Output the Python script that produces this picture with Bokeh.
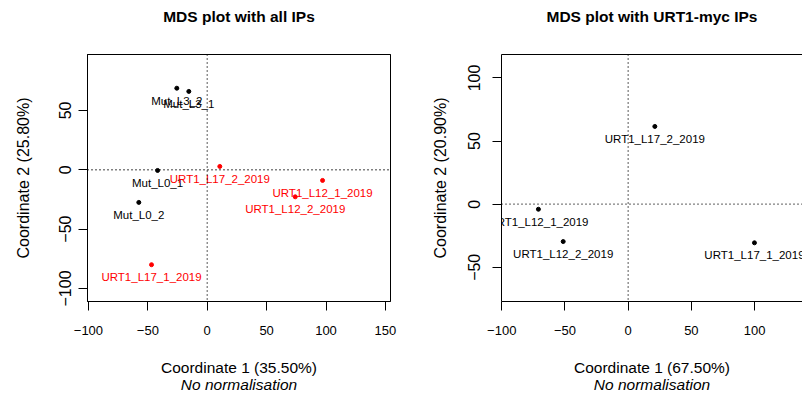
from bokeh.plotting import figure
from bokeh.layouts import row
from bokeh.models import Span, LinearAxis, FixedTicker, Range1d, ColumnDataSource
from bokeh.core.properties import value
from bokeh.embed import file_html
from bokeh.resources import INLINE

# ---- data: MDS plot with all IPs ----
all_names = ["Mut_L3_2", "Mut_L3_1", "Mut_L0_1", "Mut_L0_2",
             "URT1_L17_2_2019", "URT1_L12_1_2019", "URT1_L12_2_2019", "URT1_L17_1_2019"]
all_x = [-25.6, -15.5, -41.8, -57.6, 10.6, 97.1, 74.1, -46.9]
all_y = [68.7, 66.0, -0.6, -27.5, 2.8, -9.0, -22.8, -80.0]
all_colors = ["black", "black", "black", "black", "red", "red", "red", "red"]
all_xticks = [-100, -50, 0, 50, 100, 150]
all_yticks = [-100, -50, 0, 50]

# ---- data: MDS plot with URT1-myc IPs ----
myc_names = ["URT1_L17_2_2019", "URT1_L12_1_2019", "URT1_L12_2_2019", "URT1_L17_1_2019"]
myc_x = [21.1, -71.0, -51.4, 99.9]
myc_y = [61.6, -4.0, -29.6, -30.6]
myc_colors = ["black", "black", "black", "black"]
myc_xticks = [-100, -50, 0, 50, 100, 150]
myc_yticks = [-50, 0, 50, 100]

FONT = "Liberation Sans"
H = 397


def style_axis(ax, vertical=False):
    ax.major_tick_in = 0
    ax.major_tick_out = 9
    ax.minor_tick_line_color = None
    ax.axis_line_color = "black"
    ax.major_tick_line_color = "black"
    ax.major_label_text_font = FONT
    ax.major_label_text_font_size = "16px" if vertical else "13px"
    ax.major_label_text_color = "black"
    ax.axis_label_text_font = FONT
    ax.axis_label_text_font_size = "16px" if vertical else "15.5px"
    ax.axis_label_text_font_style = "normal"
    ax.axis_label_text_color = "black"
    if vertical:
        ax.major_label_orientation = "vertical"


def make_panel(title, names, xs, ys, colors, xr, yr, xticks, yticks, xlab, ylab,
               width, mbl, mbr, ytick_so, ylab_so, outline=True):
    p = figure(width=width, height=H, x_range=Range1d(*xr), y_range=Range1d(*yr),
               output_backend="svg", toolbar_location=None,
               min_border_left=mbl, min_border_right=mbr,
               min_border_top=54, min_border_bottom=H - 301)
    p.grid.visible = False
    p.background_fill_color = "white"
    p.border_fill_color = "white"
    p.outline_line_color = "black" if outline else None
    p.outline_line_width = 1
    p.title.text = ""

    p.xaxis.ticker = FixedTicker(ticks=xticks)
    p.yaxis.ticker = FixedTicker(ticks=yticks)
    p.xaxis.axis_label = xlab
    p.yaxis.axis_label = ylab
    for ax in p.xaxis:
        style_axis(ax)
        ax.major_label_standoff = 15
        ax.axis_label_standoff = 21
    for ax in p.yaxis:
        style_axis(ax, vertical=True)
        ax.major_label_standoff = ytick_so
        ax.axis_label_standoff = ylab_so

    sub = LinearAxis(ticker=FixedTicker(ticks=[]), axis_label="No normalisation")
    sub.axis_line_color = None
    sub.axis_label_text_font = FONT
    sub.axis_label_text_font_size = "15.5px"
    sub.axis_label_text_font_style = "italic"
    sub.axis_label_text_color = "black"
    sub.axis_label_standoff = -3
    p.add_layout(sub, "below")

    # top border line + chart title (as the label of an empty top axis)
    top = LinearAxis(ticker=FixedTicker(ticks=[]), axis_label=title)
    top.axis_line_color = "black"
    top.major_tick_out = 0
    top.major_tick_in = 0
    top.major_label_text_font_size = "0px"
    top.major_label_standoff = 0
    top.axis_label_text_font = FONT
    top.axis_label_text_font_size = "15.5px"
    top.axis_label_text_font_style = "bold"
    top.axis_label_text_color = "black"
    top.axis_label_standoff = 30
    p.add_layout(top, "above")

    p.add_layout(Span(location=0, dimension="height", line_color="black",
                      line_dash="1 3", line_width=1.3))
    p.add_layout(Span(location=0, dimension="width", line_color="black",
                      line_dash="1 3", line_width=1.3))

    src = ColumnDataSource(dict(x=xs, y=ys, name=names, color=colors))
    p.scatter("x", "y", source=src, size=4, color="color")
    p.text("x", "y", text="name", source=src, text_color="color",
           text_font=value(FONT), text_font_size="11.5px",
           text_align="center", text_baseline="middle", y_offset=12.5)
    return p


p1 = make_panel("MDS plot with all IPs", all_names, all_x, all_y, all_colors,
                (-100.8, 154.3), (-111.0, 97.1), all_xticks, all_yticks,
                "Coordinate 1 (35.50%)", "Coordinate 2 (25.80%)",
                width=401, mbl=87, mbr=11, ytick_so=7, ylab_so=25, outline=True)
p2 = make_panel("MDS plot with URT1-myc IPs", myc_names, myc_x, myc_y, myc_colors,
                (-100.2, 137.9), (-77.1, 118.6), myc_xticks, myc_yticks,
                "Coordinate 1 (67.50%)", "Coordinate 2 (20.90%)",
                width=401, mbl=100, mbr=0, ytick_so=12, ylab_so=17, outline=False)

layout = row(p1, p2, spacing=0)
open("out.html", "w").write(file_html(layout, INLINE))
